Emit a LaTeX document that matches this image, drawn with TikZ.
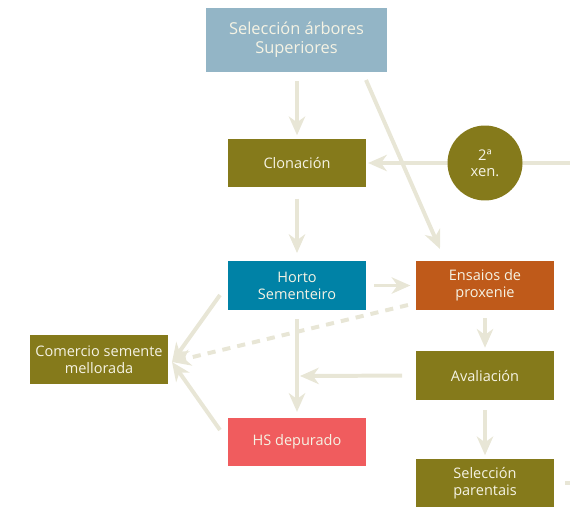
\documentclass[tikz,border=0pt]{standalone}
\usepackage{fontspec}
\setmainfont{Open Sans}
\usepackage{xcolor}
\usetikzlibrary{arrows.meta, positioning, backgrounds}

\definecolor{selblue}{RGB}{147,181,198}
\definecolor{olivebox}{RGB}{133,122,27}
\definecolor{hortoblue}{RGB}{0,130,166}
\definecolor{proxorange}{RGB}{191,90,26}
\definecolor{hsred}{RGB}{240,92,94}
\definecolor{flowline}{RGB}{232,230,214}
\definecolor{boxtext}{RGB}{245,243,228}

\begin{document}
\begin{tikzpicture}[x=0.03cm, y=-0.03cm]
\tikzstyle{stage} = [rectangle, minimum width=117pt, minimum height=41pt, inner sep=2pt, align=center, text=boxtext, font=\fontsize{12.4}{14.5}\selectfont]
\tikzstyle{gen} = [circle, minimum size=64pt, inner sep=0pt, align=center, fill=olivebox, text=boxtext, font=\fontsize{12.6}{14}\selectfont]
\tikzstyle{arrow} = [draw=flowline, line width=3.4pt, -{Stealth[length=16pt, width=14pt, inset=5pt]}]
\tikzstyle{plainline} = [draw=flowline, line width=3.4pt]

\useasboundingbox (0,0) rectangle (570,507);

% centre column
\node (sel) [stage, fill=selblue, minimum width=154pt, minimum height=54pt, font=\fontsize{14}{16}\selectfont] at (296.5,40) {Selección árbores\\Superiores};
\node (clon) [stage, fill=olivebox] at (297,163) {Clonación};
\node (horto) [stage, fill=hortoblue] at (297,285.5) {Horto\\Sementeiro};
\node (hs) [stage, fill=hsred] at (297,442) {HS depurado};

% right column
\node (xen) [gen] at (485,163) {2ª\\xen.};
\node (ens) [stage, fill=proxorange] at (485,285.5) {Ensaios de\\proxenie};
\node (aval) [stage, fill=olivebox] at (485,375.5) {Avaliación};
\node (selpar) [stage, fill=olivebox] at (485,483) {Selección\\parentais};

% left
\node (com) [stage, fill=olivebox] at (99,359.5) {Comercio semente\\mellorada};

\coordinate (edge) at (570,163);
\coordinate (diagtop) at (366,80);
\coordinate (comtip) at (172,362);
\coordinate (upleft) at (220,295);
\coordinate (lowleft) at (220,430);
\coordinate (dashstart) at (408,305);
\coordinate (avalend) at (300,376);
\coordinate (edgelow) at (570,483);

\begin{scope}[on background layer]
\draw [arrow, shorten <=8pt] (sel.south -| clon) -- ([yshift=3pt]clon.north);
\draw [arrow] (diagtop) -- (440,249);
\draw [arrow] (edge) -- ([xshift=2pt]clon.east);
\draw [arrow, shorten <=10pt] (clon) ++(0,24) -- ([yshift=7pt]horto.north);
\draw [arrow, shorten <=7pt, shorten >=5pt] (horto.east) -- (ens.west);
\draw [arrow, shorten <=8pt] (horto.south) -- ([yshift=5pt]hs.north);
\draw [arrow, shorten <=12pt] (aval.west) -- (avalend);
\draw [arrow, shorten <=7pt, shorten >=3pt] (ens.south) -- (aval.north);
\draw [arrow, shorten <=9pt, shorten >=3pt] (aval.south) -- (selpar.north);
\draw [arrow] (upleft) -- (comtip);
\draw [arrow] (lowleft) -- (comtip);
\draw [arrow, dash pattern=on 7pt off 6pt] (dashstart) -- (comtip);
\draw [plainline, shorten <=10pt] (selpar.east) -- (edgelow);
\end{scope}
\end{tikzpicture}
\end{document}
